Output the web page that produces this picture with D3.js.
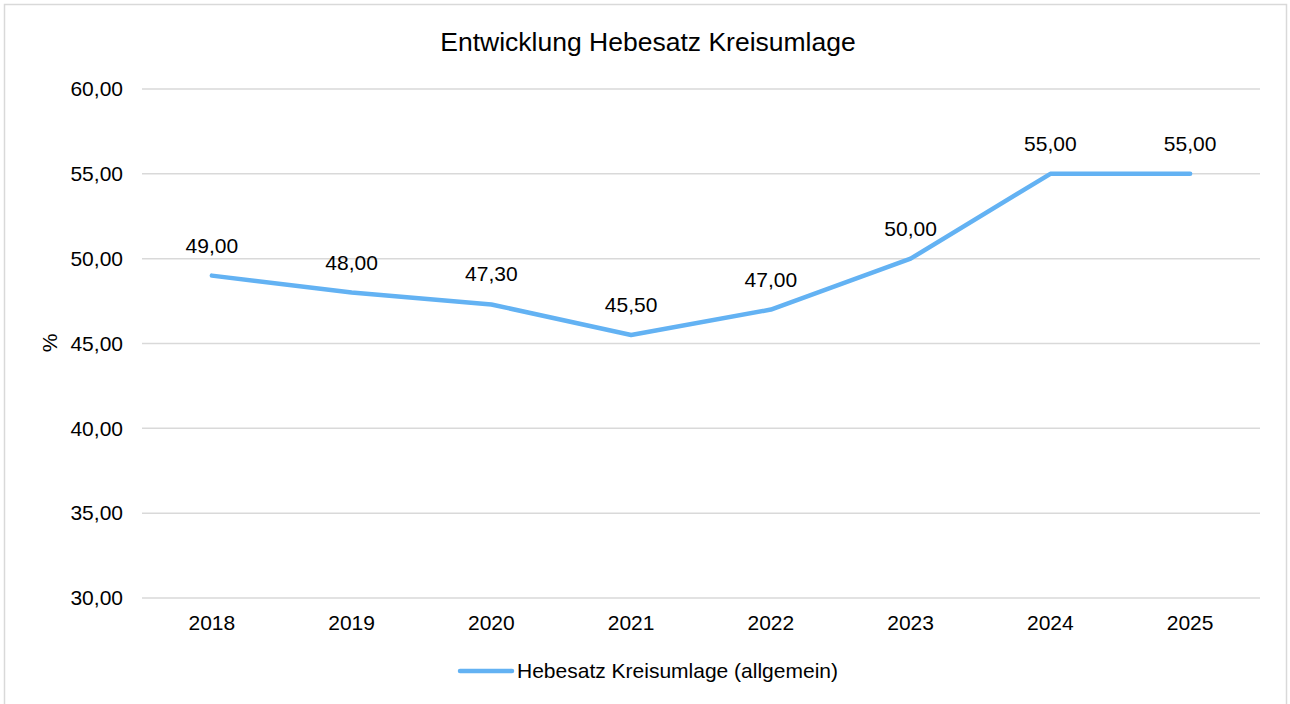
<!DOCTYPE html>
<html><head><meta charset="utf-8">
<script src="https://cdn.jsdelivr.net/npm/d3@7"></script>
<style>body{margin:0;background:#fff;font-family:"Liberation Sans",Arial,sans-serif;}</style>
</head><body><svg id="c" width="1290" height="704"></svg>
<script>
const categories = ["2018","2019","2020","2021","2022","2023","2024","2025"];
const values = [49.00, 48.00, 47.30, 45.50, 47.00, 50.00, 55.00, 55.00];
const yTicks = [30,35,40,45,50,55,60];
const seriesName = "Hebesatz Kreisumlage (allgemein)";
const title = "Entwicklung Hebesatz Kreisumlage";
const yLabel = "%";

const svg = d3.select("#c");
const fmt = v => d3.format(".2f")(v).replace(".", ",");
svg.append("rect").attr("x",4.5).attr("y",4.5).attr("width",1282).attr("height",710)
  .attr("fill","#fff").attr("stroke","#d9d9d9").attr("stroke-width",1.5);

const x = d3.scaleBand().domain(categories).range([142,1260]);
const y = d3.scaleLinear().domain([30,60]).range([598,89]);

const g = svg.append("g");
g.selectAll("line.grid").data(yTicks).join("line")
  .attr("x1",142).attr("x2",1260).attr("y1",d=>y(d)).attr("y2",d=>y(d))
  .attr("stroke","#d9d9d9").attr("stroke-width",1.5);

const FS = 21;
const yAxis = svg.append("g").attr("transform","translate(142,0)")
  .call(d3.axisLeft(y).tickValues(yTicks).tickFormat(fmt).tickSize(0).tickPadding(19));
yAxis.select(".domain").remove();
yAxis.selectAll("text").attr("font-size",FS).attr("fill","#000").attr("font-family","Liberation Sans, Arial, sans-serif");

const xAxis = svg.append("g").attr("transform","translate(0,598)")
  .call(d3.axisBottom(x).tickSize(0).tickPadding(17));
xAxis.select(".domain").remove();
xAxis.selectAll("text").attr("font-size",FS).attr("fill","#000").attr("font-family","Liberation Sans, Arial, sans-serif");

const cx = d => x(d) + x.bandwidth()/2;
svg.append("path").datum(values)
  .attr("d", d3.line().x((d,i)=>cx(categories[i])).y(d=>y(d)))
  .attr("fill","none").attr("stroke","#63b2f3").attr("stroke-width",4.5)
  .attr("stroke-linejoin","round").attr("stroke-linecap","round");

svg.selectAll("text.lbl").data(values).join("text").attr("class","lbl")
  .attr("x",(d,i)=>cx(categories[i])).attr("y",d=>y(d)-23)
  .attr("text-anchor","middle").attr("font-size",FS).attr("fill","#000")
  .text(fmt);

svg.append("text").attr("x",648).attr("y",51).attr("text-anchor","middle")
  .attr("font-size",26.5).attr("fill","#000").text(title);

svg.append("text").attr("transform","translate(57,343) rotate(-90)")
  .attr("text-anchor","middle").attr("font-size",FS).attr("fill","#000").text(yLabel);

svg.append("line").attr("x1",460).attr("x2",512).attr("y1",671).attr("y2",671)
  .attr("stroke","#63b2f3").attr("stroke-width",4.5).attr("stroke-linecap","round");
svg.append("text").attr("x",517).attr("y",678).attr("font-size",FS).attr("fill","#000").text(seriesName);
</script></body></html>
